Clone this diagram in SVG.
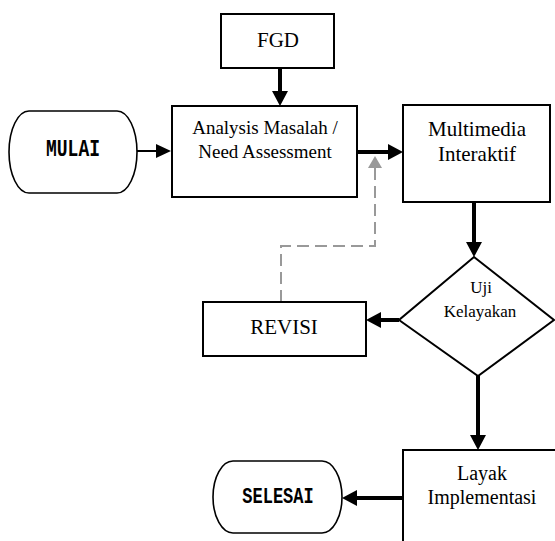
<svg xmlns="http://www.w3.org/2000/svg" width="555" height="541" viewBox="0 0 555 541">
<style>
.box{fill:#fff;stroke:#000;stroke-width:2}
.term{fill:#fff;stroke:#000;stroke-width:1.6}
.t{font-family:"Liberation Serif","Times New Roman",serif;fill:#000;text-anchor:middle}
.m{font-family:"Liberation Mono","Courier New",monospace;font-weight:bold;fill:#000;text-anchor:middle}
.thick{stroke:#000;stroke-width:4;fill:none}
.thin{stroke:#000;stroke-width:2;fill:none}
.dash{stroke:#999;stroke-width:2;fill:none;stroke-dasharray:12 6}
</style>
<defs>
<marker id="ah" markerUnits="userSpaceOnUse" markerWidth="16" markerHeight="18" refX="0" refY="8" orient="auto" viewBox="0 0 16 16">
<path d="M0,0 L15,8 L0,16 Z" fill="#000"/>
</marker>
<marker id="ahs" markerUnits="userSpaceOnUse" markerWidth="16" markerHeight="16" refX="0" refY="7" orient="auto" viewBox="0 0 16 14">
<path d="M0,0 L15,7 L0,14 Z" fill="#000"/>
</marker>
<marker id="ahg" markerUnits="userSpaceOnUse" markerWidth="14" markerHeight="16" refX="0" refY="7" orient="auto" viewBox="0 0 14 14">
<path d="M0,0 L12,7 L0,14 Z" fill="#999"/>
</marker>
</defs>
<g id="connectors">
<line class="thick" x1="280" y1="68" x2="280" y2="91" marker-end="url(#ah)"/>
<line class="thin" x1="137" y1="151" x2="156" y2="151" marker-end="url(#ahs)"/>
<line class="thick" x1="357" y1="152" x2="388" y2="152" marker-end="url(#ah)"/>
<line class="thick" x1="474" y1="202" x2="474" y2="242" marker-end="url(#ah)"/>
<line class="thick" x1="399" y1="320" x2="381" y2="320" marker-end="url(#ah)"/>
<line class="thick" x1="478" y1="376" x2="478" y2="435" marker-end="url(#ah)"/>
<line class="thick" x1="403" y1="498" x2="357" y2="498" marker-end="url(#ah)"/>
<path class="dash" d="M281,302 V246 H375 V168" marker-end="url(#ahg)"/>
</g>
<g id="fgd">
<rect class="box" x="221" y="14" width="113" height="54"/>
<text class="t" x="278" y="47" font-size="21">FGD</text>
</g>
<g id="mulai">
<rect class="term" x="9" y="111" width="128" height="82" rx="20" ry="41"/>
<text class="m" font-size="18" transform="translate(73,156) scale(1,1.3)">MULAI</text>
</g>
<g id="analysis">
<rect class="box" x="172" y="106" width="185" height="91"/>
<text class="t" x="265" y="134" font-size="19">Analysis Masalah /</text>
<text class="t" x="265" y="158" font-size="19">Need Assessment</text>
</g>
<g id="multimedia">
<rect class="box" x="403" y="105" width="147" height="97"/>
<text class="t" x="477" y="136" font-size="21">Multimedia</text>
<text class="t" x="477" y="161" font-size="21">Interaktif</text>
</g>
<g id="uji">
<polygon class="box" points="474,257 554,320 478,376 399,320"/>
<text class="t" x="481" y="293" font-size="17">Uji</text>
<text class="t" x="480" y="317" font-size="17">Kelayakan</text>
</g>
<g id="revisi">
<rect class="box" x="203" y="302" width="163" height="54"/>
<text class="t" x="284" y="334" font-size="21">REVISI</text>
</g>
<g id="layak">
<rect class="box" x="403" y="450" width="160" height="100"/>
<text class="t" x="482" y="480" font-size="20">Layak</text>
<text class="t" x="482" y="504" font-size="20">Implementasi</text>
</g>
<g id="selesai">
<rect class="term" x="213" y="461" width="129" height="72" rx="20" ry="36"/>
<text class="m" font-size="17" transform="translate(278,503) scale(1,1.3)">SELESAI</text>
</g>
</svg>
